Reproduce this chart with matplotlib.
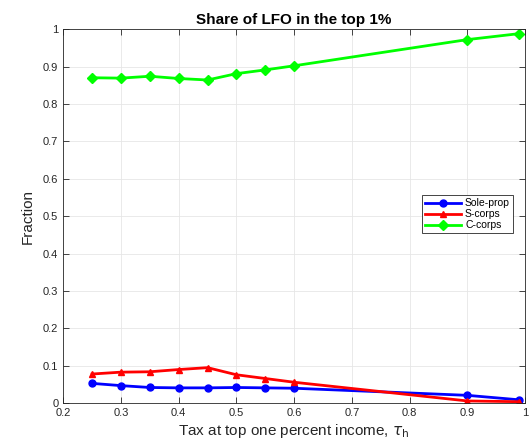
import matplotlib
matplotlib.use('Agg')
import matplotlib.pyplot as plt

# tax rates at top one percent income
tau_h = [0.25, 0.30, 0.35, 0.40, 0.45, 0.50, 0.55, 0.60, 0.90, 0.99]

# share of each legal form in the top 1%
sole_prop = [0.053, 0.047, 0.042, 0.041, 0.041, 0.042, 0.041, 0.040, 0.021, 0.009]
s_corps = [0.078, 0.083, 0.084, 0.090, 0.095, 0.076, 0.066, 0.056, 0.006, 0.004]
c_corps = [0.870, 0.869, 0.874, 0.868, 0.864, 0.881, 0.891, 0.902, 0.972, 0.988]

x_ticks = [0.2, 0.3, 0.4, 0.5, 0.6, 0.7, 0.8, 0.9, 1.0]
x_tick_labels = ['0.2', '0.3', '0.4', '0.5', '0.6', '0.7', '0.8', '0.9', '1']
y_ticks = [0, 0.1, 0.2, 0.3, 0.4, 0.5, 0.6, 0.7, 0.8, 0.9, 1.0]
y_tick_labels = ['0', '0.1', '0.2', '0.3', '0.4', '0.5', '0.6', '0.7', '0.8', '0.9', '1']

plt.rcParams['font.family'] = ['Liberation Sans', 'DejaVu Sans']

fig = plt.figure(figsize=(5.31, 4.48), dpi=100)
ax = fig.add_axes([0.119, 0.1, 0.870, 0.835])

ax.plot(tau_h, sole_prop, color='#0000ff', marker='o', markersize=5, linewidth=2, label='Sole-prop')
ax.plot(tau_h, s_corps, color='#ff0000', marker='^', markersize=5, linewidth=2, label='S-corps')
ax.plot(tau_h, c_corps, color='#00ff00', marker='D', markersize=5, linewidth=2, label='C-corps')

ax.set_xlim(0.2, 1.0)
ax.set_ylim(0, 1.0)
ax.set_xticks(x_ticks)
ax.set_xticklabels(x_tick_labels)
ax.set_yticks(y_ticks)
ax.set_yticklabels(y_tick_labels)
ax.tick_params(direction='in', length=4, width=0.6, labelsize=8, colors='#262626',
               top=True, right=True)
ax.grid(True, color='#e6e6e6', linewidth=0.6)
ax.set_axisbelow(True)
for sp in ax.spines.values():
    sp.set_color('#262626')
    sp.set_linewidth(0.6)

ax.set_title('Share of LFO in the top 1%', fontsize=11, fontweight='bold', pad=4)
ax.set_xlabel(r'Tax at top one percent income, $\tau_{\rm h}$', fontsize=11, color='#262626', labelpad=3)
ax.set_ylabel('Fraction', fontsize=11, color='#262626', labelpad=6)

leg = ax.legend(loc='center right', bbox_to_anchor=(0.985, 0.505), fontsize=7.5,
                fancybox=False, framealpha=1, edgecolor='#262626', handlelength=3.4,
                borderpad=0.3, labelspacing=0.1, handletextpad=0.4)
leg.get_frame().set_linewidth(0.6)

fig.savefig('out.png', dpi=100)
